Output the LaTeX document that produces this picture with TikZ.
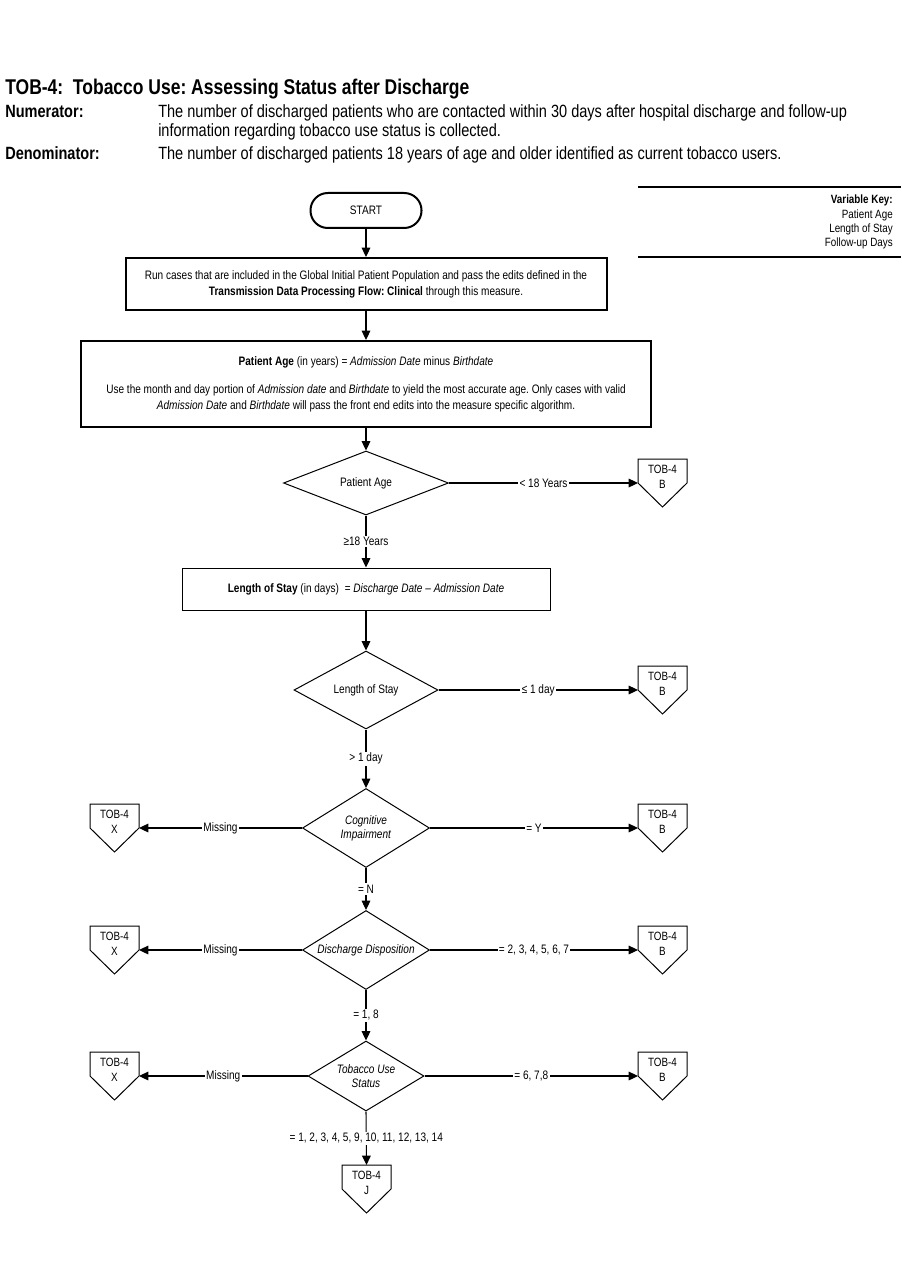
\documentclass[tikz,border=0pt]{standalone}
\usepackage{fontspec}
\setmainfont{Liberation Sans}[FakeStretch=0.82]
\usepackage{tikz}
\usetikzlibrary{positioning,arrows.meta,shapes.geometric}
\frenchspacing

\begin{document}
\begin{tikzpicture}[
  x=0.75pt, y=-0.75pt,
  font=\fontsize{9.2}{12}\selectfont,
  caja/.style={draw, line width=0.75pt, align=center, inner sep=0pt},
  cajagruesa/.style={caja, line width=1.5pt},
  inicio/.style={draw, line width=1.5pt, rounded corners=13pt,
                 minimum width=83.25pt, minimum height=26.25pt},
  rombo/.style={draw, diamond, line width=0.75pt, align=center,
                inner sep=0pt, shape aspect=1.6,
                font=\fontsize{9.2}{10.75}\selectfont},
  flecha/.style={-{Triangle[length=7pt,width=6.5pt]}, line width=0.8pt},
  etiqueta/.style={fill=white, inner sep=1pt},
  pentagono/.style={draw, line width=0.75pt, fill=white},
  textocon/.style={align=center, inner sep=0pt,
                   font=\fontsize{9}{11.5}\selectfont},
  cabeza/.style={anchor=base west, inner sep=0pt},
]
\useasboundingbox (0,0) rectangle (901,1287);
% --- Encabezado ---------------------------------------------------------------
\node[cabeza, font=\bfseries\fontsize{16}{18}\selectfont] (titulo) at (5,95)
  {TOB-4:\ \ Tobacco Use: Assessing Status after Discharge};
\node[cabeza, font=\bfseries\fontsize{13.3}{15}\selectfont] (numlab) at (5,118)
  {Numerator:};
\node[cabeza, font=\fontsize{13.3}{15}\selectfont] (numtxt) at (158,118)
  {The number of discharged patients who are contacted within 30 days after
   hospital discharge and follow-up};
\node[cabeza, font=\fontsize{13.3}{15}\selectfont] (numtxtb) at (158,137)
  {information regarding tobacco use status is collected.};
\node[cabeza, font=\bfseries\fontsize{13.3}{15}\selectfont] (denlab) at (5,160)
  {Denominator:};
\node[cabeza, font=\fontsize{13.3}{15}\selectfont] (dentxt) at (158,160)
  {The number of discharged patients 18 years of age and older identified as
   current tobacco users.};
% --- Clave de variables -------------------------------------------------------
\draw[line width=1.5pt] (638,187) -- (901,187);
\draw[line width=1.5pt] (638,257) -- (901,257);
\node[anchor=north east, align=right, inner sep=0pt,
      font=\fontsize{9}{10.75}\selectfont] (clave) at (893,195)
  {\textbf{Variable Key:}\\Patient Age\\Length of Stay\\Follow-up Days};
% --- Cajas de proceso ---------------------------------------------------------
\node[inicio] (inicio) at (366,210.5) {START};
\node[cajagruesa, minimum width=360.75pt, minimum height=39pt] (caja1)
  at (366,284)
  {Run cases that are included in the Global Initial Patient Population and
   pass the edits defined in the\\
   \textbf{Transmission Data Processing Flow: Clinical} through this measure.};
\node[cajagruesa, minimum width=427.5pt, minimum height=64.5pt] (caja2)
  at (366,384)
  {\textbf{Patient Age} (in years) = \textit{Admission Date} minus
   \textit{Birthdate}\\[9pt]
   Use the month and day portion of \textit{Admission date} and
   \textit{Birthdate} to yield the most accurate age. Only cases with valid\\
   \textit{Admission Date} and \textit{Birthdate} will pass the front end
   edits into the measure specific algorithm.};
\node[caja, minimum width=276pt, minimum height=31.5pt] (caja3) at (366,589)
  {\textbf{Length of Stay} (in days)\ \ \textit{= Discharge Date --
   Admission Date}};
% --- Decisiones ---------------------------------------------------------------
\node[rombo, minimum width=123.75pt, minimum height=48pt] (rombo1)
  at (366,483) {Patient Age};
\node[rombo, minimum width=108pt, minimum height=58.5pt] (rombo2)
  at (366,690) {Length of Stay};
\node[rombo, minimum width=95.25pt, minimum height=59.25pt] (rombo3)
  at (366,828) {\textit{Cognitive}\\\textit{Impairment}};
\node[rombo, minimum width=95.25pt, minimum height=59.25pt] (rombo4)
  at (366,950) {\textit{Discharge Disposition}};
\node[rombo, minimum width=87pt, minimum height=52.5pt] (rombo5)
  at (366,1076) {\textit{Tobacco Use}\\\textit{Status}};
% --- Conectores de salida -----------------------------------------------------
\foreach \n/\x/\y/\t in {b1/638/483/B, b2/638/690/B, b3/638/828/B,
                         b4/638/950/B, b5/638/1076/B, x3/90/828/X,
                         x4/90/950/X, x5/90/1076/X} {
  \draw[pentagono] (\x,\y-24) -- (\x+49,\y-24) -- (\x+49,\y)
    -- (\x+24.5,\y+24) -- (\x,\y) -- cycle;
  \coordinate (\n-izq) at (\x,\y);
  \coordinate (\n-der) at (\x+49,\y);
  \node[textocon] (\n) at (\x+24.5,\y-6) {TOB-4\\\t};
}
\draw[pentagono] (342,1165) -- (391,1165) -- (391,1189) -- (366.5,1213)
  -- (342,1189) -- cycle;
\coordinate (j-arr) at (366.5,1165);
\node[textocon] (j) at (366.5,1183) {TOB-4\\J};
% --- Flechas ------------------------------------------------------------------
\draw[flecha] (inicio.south) -- (caja1.north);
\draw[flecha] (caja1.south) -- (caja2.north);
\draw[flecha] (caja2.south) -- (rombo1.north);
\draw[flecha] (rombo1.south) -- node[etiqueta] (et1) {≥18 Years} (caja3.north);
\draw[flecha] (caja3.south) -- (rombo2.north);
\draw[flecha] (rombo2.south) -- node[etiqueta] (et2) {> 1 day} (rombo3.north);
\draw[flecha] (rombo3.south) -- node[etiqueta] (et3) {= N} (rombo4.north);
\draw[flecha] (rombo4.south) -- node[etiqueta] (et4) {= 1, 8} (rombo5.north);
\draw[flecha] (rombo5.south) --
  node[etiqueta] (et5) {= 1, 2, 3, 4, 5, 9, 10, 11, 12, 13, 14} (j-arr);
\draw[flecha] (rombo1.east) -- node[etiqueta] (et6) {< 18 Years} (b1-izq);
\draw[flecha] (rombo2.east) -- node[etiqueta] (et7) {≤ 1 day} (b2-izq);
\draw[flecha] (rombo3.east) -- node[etiqueta] (et8) {= Y} (b3-izq);
\draw[flecha] (rombo4.east) -- node[etiqueta] (et9) {= 2, 3, 4, 5, 6, 7} (b4-izq);
\draw[flecha] (rombo5.east) -- node[etiqueta] (et10) {= 6, 7,8} (b5-izq);
\draw[flecha] (rombo3.west) -- node[etiqueta] (et11) {Missing} (x3-der);
\draw[flecha] (rombo4.west) -- node[etiqueta] (et12) {Missing} (x4-der);
\draw[flecha] (rombo5.west) -- node[etiqueta] (et13) {Missing} (x5-der);
\end{tikzpicture}
\end{document}
